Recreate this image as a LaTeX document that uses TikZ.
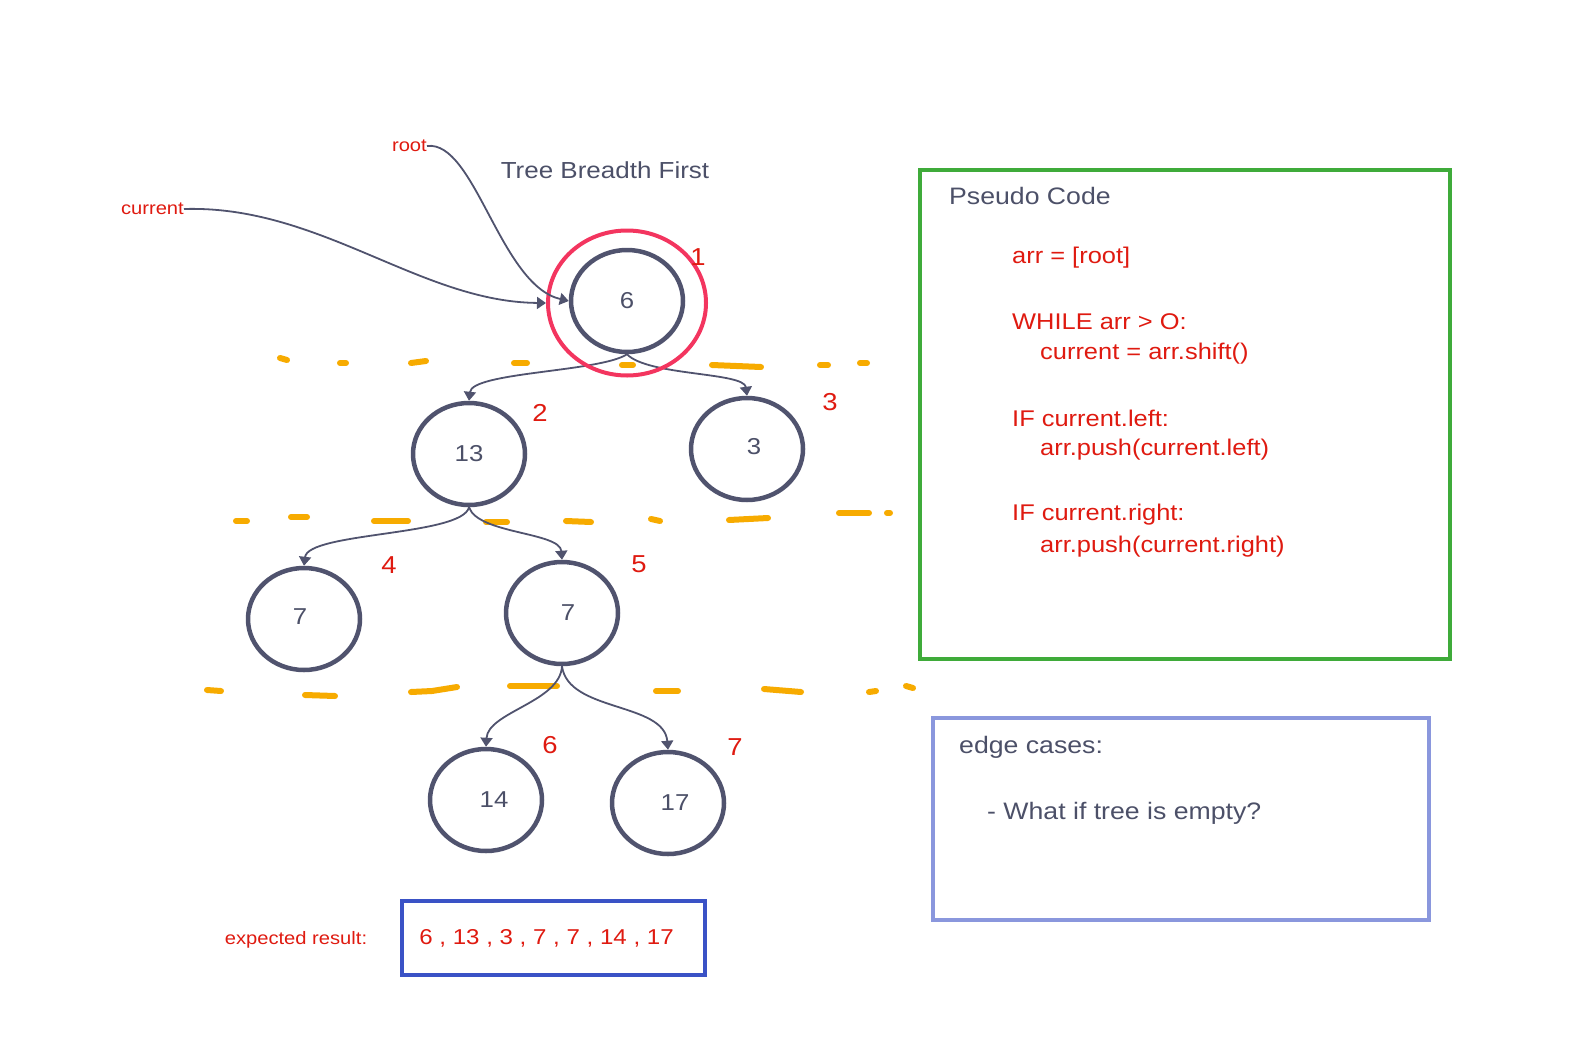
\documentclass[tikz,border=0pt]{standalone}
\usepackage{fontspec}
\setmainfont{Liberation Sans}[FakeStretch=1.12]
\usetikzlibrary{shapes.geometric,arrows.meta}
\definecolor{nodecol}{RGB}{80,83,110}
\definecolor{txtcol}{RGB}{76,80,104}
\definecolor{redc}{RGB}{223,26,16}
\definecolor{pinkc}{RGB}{243,53,95}
\definecolor{orng}{RGB}{247,171,0}
\definecolor{greenc}{RGB}{63,171,58}
\definecolor{bluec}{RGB}{58,82,198}
\definecolor{peric}{RGB}{138,151,221}
\begin{document}
\begin{tikzpicture}[x=1pt,y=-1pt,
  tnode/.style={ellipse,draw=nodecol,line width=4.5pt,minimum width=112pt,minimum height=102pt,inner sep=0pt,text=txtcol,font=\fontsize{23}{27}\selectfont},
  edge/.style={draw=nodecol,line width=1.8pt,-{Triangle[width=12pt,length=9pt]}},
  ordl/.style={text=redc,font=\fontsize{24.5}{28}\selectfont,inner sep=0pt},
  codel/.style={text=redc,font=\fontsize{22.7}{27}\selectfont,anchor=west,inner sep=0pt},
  grayl/.style={text=txtcol,font=\fontsize{23.8}{28}\selectfont,inner sep=0pt},
  smallred/.style={text=redc,font=\fontsize{18}{21}\selectfont,inner sep=0pt},
  dsh/.style={draw=orng,line width=6pt,line cap=round},
]
\useasboundingbox (0,0) rectangle (1576,1044);

% orange level separators
\foreach \a/\b/\c/\d in {280/358/287/360, 340/363/346/363, 411/363/426/361, 514/363/527/363, 622/365/633/365, 712/365/761/367, 820/365/828/365, 860/363/867/363,
  236/521/247/521, 291/517/307/517, 374/521/408/521, 486/522/507/522, 566/521/591/522, 651/519/660/521, 729/520/768/518, 839/513/869/513, 887/513/890/513,
  207/690/221/691, 305/695/335/696, 411/692/432/691, 432/691/457/687, 510/686/557/686, 656/691/678/691, 764/689/801/692, 869/692/876/691, 906/686/913/688}
  \draw[dsh] (\a,\b) -- (\c,\d);

% title
\node[grayl,font=\fontsize{23.2}{28}\selectfont] (title) at (605,170) {Tree Breadth First};

% tree nodes
\node[tnode] (n6)  at (627,301) {6};
\node[tnode] (n13) at (469,454) {13};
\node[tnode] (n3)  at (747,449) {\kern14pt\raisebox{5pt}{3}};
\node[tnode] (n7a) at (304,619) {\kern-8pt\raisebox{5pt}{7}};
\node[tnode] (n7b) at (562,613) {\kern12pt 7};
\node[tnode] (n14) at (486,800) {\kern16pt 14};
\node[tnode] (n17) at (668,803) {\kern14pt 17};

% edges
\draw[edge] (n6.south) .. controls (600,372) and (472,372) .. (n13.north);
\draw[edge] (n6.south) .. controls (648,376) and (744,372) .. (n3.north);
\draw[edge] (n13.south) .. controls (462,536) and (308,532) .. (n7a.north);
\draw[edge] (n13.south) .. controls (478,534) and (560,532) .. (n7b.north);
\draw[edge] (n7b.south) .. controls (560,702) and (488,712) .. (n14.north);
\draw[edge] (n7b.south) .. controls (568,712) and (664,702) .. (n17.north);

% highlighted root ring
\node[ellipse,draw=pinkc,line width=4pt,minimum width=158pt,minimum height=145pt,inner sep=0pt] (ring) at (627,303) {};

% pointer labels
\node[smallred,anchor=east] (root) at (427,146) {root};
\node[smallred,anchor=east] (cur) at (184,209) {current};
\draw[edge] (root.east) .. controls (475,140) and (500,285) .. (n6.west);
\draw[edge] (cur.east) .. controls (320,205) and (420,302) .. (ring.west);

% order numbers
\node[ordl] (o1) at (698,257) {1};
\node[ordl] (o2) at (540,413) {2};
\node[ordl] (o3) at (830,402) {3};
\node[ordl] (o4) at (389,565) {4};
\node[ordl] (o5) at (639,564) {5};
\node[ordl] (o6) at (550,745) {6};
\node[ordl] (o7) at (735,747) {7};

% expected result
\node[smallred] (exl) at (296,940) {expected result:};
\node[draw=bluec,line width=4pt,minimum width=303pt,minimum height=74pt,inner sep=0pt,text=redc,font=\fontsize{21.5}{26}\selectfont] (res) at (553.5,938) {6 , 13 , 3 , 7 , 7 , 14 , 17\kern14pt};

% pseudo code box
\node[draw=greenc,line width=4pt,minimum width=530pt,minimum height=489pt,inner sep=0pt] (pcbox) at (1185,414.5) {};
\node[grayl,anchor=west] (pct) at (949,196) {Pseudo Code};
\node[codel] (c1) at (1012,258) {arr = [root]};
\node[codel] (c2) at (1012,322) {WHILE arr > O:};
\node[codel] (c3) at (1040,354) {current = arr.shift()};
\node[codel] (c4) at (1012,418) {IF current.left:};
\node[codel] (c5) at (1040,450) {arr.push(current.left)};
\node[codel] (c6) at (1012,515) {IF current.right:};
\node[codel] (c7) at (1040,547) {arr.push(current.right)};

% edge cases box
\node[draw=peric,line width=4pt,minimum width=496pt,minimum height=202pt,inner sep=0pt] (ecbox) at (1181,819) {};
\node[grayl,anchor=west] (ect) at (959,747) {edge cases:};
\node[grayl,anchor=west] (ec1) at (987,813) {- What if tree is empty?};
\end{tikzpicture}
\end{document}
